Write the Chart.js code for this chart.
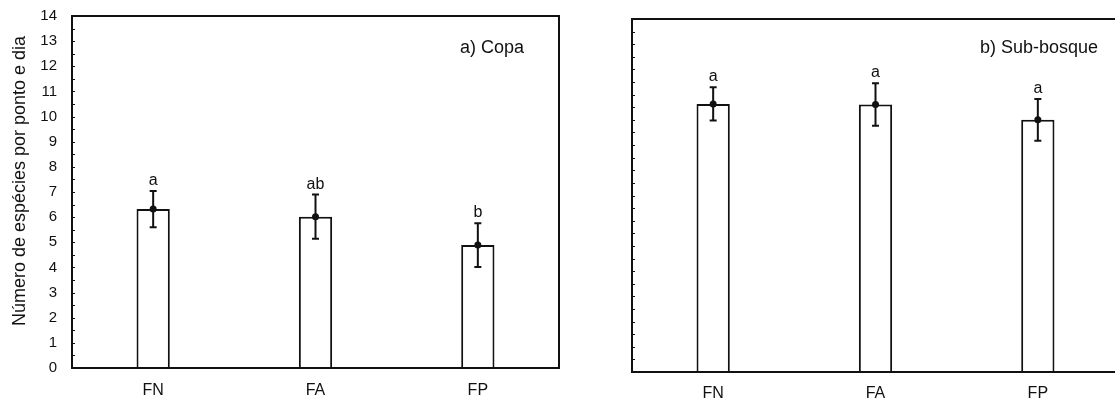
<!DOCTYPE html>
<html>
<head>
<meta charset="utf-8">
<script src="https://cdn.jsdelivr.net/npm/chart.js@4/dist/chart.umd.min.js"></script>
<style>
  html, body { margin: 0; padding: 0; background: #fff; overflow: hidden; }
  #wrap { position: relative; width: 1115px; height: 401px; }
  #c1 { position: absolute; left: 0; top: 0; }
  #box2 { position: absolute; left: 562px; top: 0; width: 553px; height: 401px; overflow: hidden; }
  #c2 { position: absolute; left: 0; top: 0; }
</style>
</head>
<body>
<div id="wrap">
  <canvas id="c1" width="562" height="401"></canvas>
  <div id="box2"><canvas id="c2" width="600" height="401"></canvas></div>
</div>
<script>
// ---- data ----
const categories = ['FN', 'FA', 'FP'];
const copaMeans = [6.32, 6.02, 4.89];
const copaErrors = [0.72, 0.88, 0.87];
const copaLetters = ['a', 'ab', 'b'];
const subMeans = [10.63, 10.61, 10.0];
const subErrors = [0.66, 0.84, 0.83];
const subLetters = ['a', 'a', 'a'];
const yTickValues = [0, 1, 2, 3, 4, 5, 6, 7, 8, 9, 10, 11, 12, 13, 14];
const yTitle = 'Número de espécies por ponto e dia';
const panelTitles = ['a) Copa', 'b) Sub-bosque'];

const INK = '#111111';
const FONT = "Arial, 'Liberation Sans', Helvetica, sans-serif";

function decorPlugin(cfg) {
  return {
    id: 'decor',
    afterDatasetsDraw(chart) {
      const ctx = chart.ctx;
      const xs = chart.scales.x, ys = chart.scales.y;
      const a = chart.chartArea;
      ctx.save();
      // minor ticks inside the left axis every 0.5
      ctx.strokeStyle = INK;
      ctx.lineWidth = 1;
      for (let v = 0; v <= 14; v += 0.5) {
        const py = Math.round(ys.getPixelForValue(v)) + 0.5;
        ctx.beginPath();
        ctx.moveTo(a.left, py);
        ctx.lineTo(a.left + 3, py);
        ctx.stroke();
      }
      // frame
      ctx.lineWidth = 2;
      ctx.strokeRect(a.left, a.top, a.right - a.left, a.bottom - a.top);
      // error bars + mean dot + letters
      cfg.means.forEach((m, i) => {
        const px = xs.getPixelForValue(i);
        const top = ys.getPixelForValue(m + cfg.errors[i]);
        const bot = ys.getPixelForValue(m - cfg.errors[i]);
        const mid = ys.getPixelForValue(m);
        ctx.lineWidth = 2;
        ctx.beginPath();
        ctx.moveTo(px, top); ctx.lineTo(px, bot);
        ctx.moveTo(px - 3.5, top); ctx.lineTo(px + 3.5, top);
        ctx.moveTo(px - 3.5, bot); ctx.lineTo(px + 3.5, bot);
        ctx.stroke();
        ctx.fillStyle = INK;
        ctx.beginPath();
        ctx.arc(px, mid, 3.5, 0, Math.PI * 2);
        ctx.fill();
        ctx.font = '16px ' + FONT;
        ctx.textAlign = 'center';
        ctx.textBaseline = 'alphabetic';
        ctx.fillText(cfg.letters[i], px, top - 6);
      });
      // panel label
      ctx.font = '18px ' + FONT;
      ctx.textAlign = 'left';
      ctx.textBaseline = 'alphabetic';
      ctx.fillStyle = INK;
      ctx.fillText(cfg.panel, a.left + cfg.panelDx, a.top + cfg.panelDy);
      // y title
      if (cfg.yTitle) {
        ctx.save();
        ctx.translate(20, 181);
        ctx.rotate(-Math.PI / 2);
        ctx.font = '18px ' + FONT;
        ctx.textAlign = 'center';
        ctx.textBaseline = 'middle';
        ctx.fillText(cfg.yTitle, 0, 0);
        ctx.restore();
      }
      ctx.restore();
    }
  };
}

function makeChart(id, cfg) {
  return new Chart(document.getElementById(id), {
    type: 'bar',
    data: {
      labels: categories,
      datasets: [{
        data: cfg.means,
        backgroundColor: '#ffffff',
        borderColor: INK,
        borderWidth: 2,
        barPercentage: 0.205,
        categoryPercentage: 1.0
      }]
    },
    options: {
      responsive: false,
      animation: false,
      devicePixelRatio: 1,
      layout: { padding: cfg.padding },
      plugins: { legend: { display: false }, tooltip: { enabled: false } },
      scales: {
        x: {
          grid: { display: false },
          border: { display: false },
          ticks: { color: INK, font: { family: FONT, size: 16 }, padding: cfg.xPad },
          afterFit: s => { s.height = cfg.xHeight; }
        },
        y: {
          min: 0, max: 14,
          grid: { display: false },
          border: { display: false },
          afterBuildTicks: s => { s.ticks = yTickValues.map(v => ({ value: v })); },
          ticks: { display: cfg.showYTicks, color: INK, font: { family: FONT, size: 15 }, padding: 7 },
          afterFit: s => { s.width = cfg.yWidth; }
        }
      }
    },
    plugins: [decorPlugin(cfg)]
  });
}

makeChart('c1', {
  means: copaMeans, errors: copaErrors, letters: copaLetters,
  panel: panelTitles[0], panelDx: 388, panelDy: 37, yTitle: yTitle,
  padding: { left: 0, top: 16, right: 3, bottom: 0 },
  xHeight: 33, yWidth: 72, showYTicks: true, xPad: 5
});
makeChart('c2', {
  means: subMeans, errors: subErrors, letters: subLetters,
  panel: panelTitles[1], panelDx: 348, panelDy: 34, yTitle: null,
  padding: { left: 0, top: 19, right: 43, bottom: 0 },
  xHeight: 29, yWidth: 70, showYTicks: false, xPad: 4
});
</script>
</body>
</html>
